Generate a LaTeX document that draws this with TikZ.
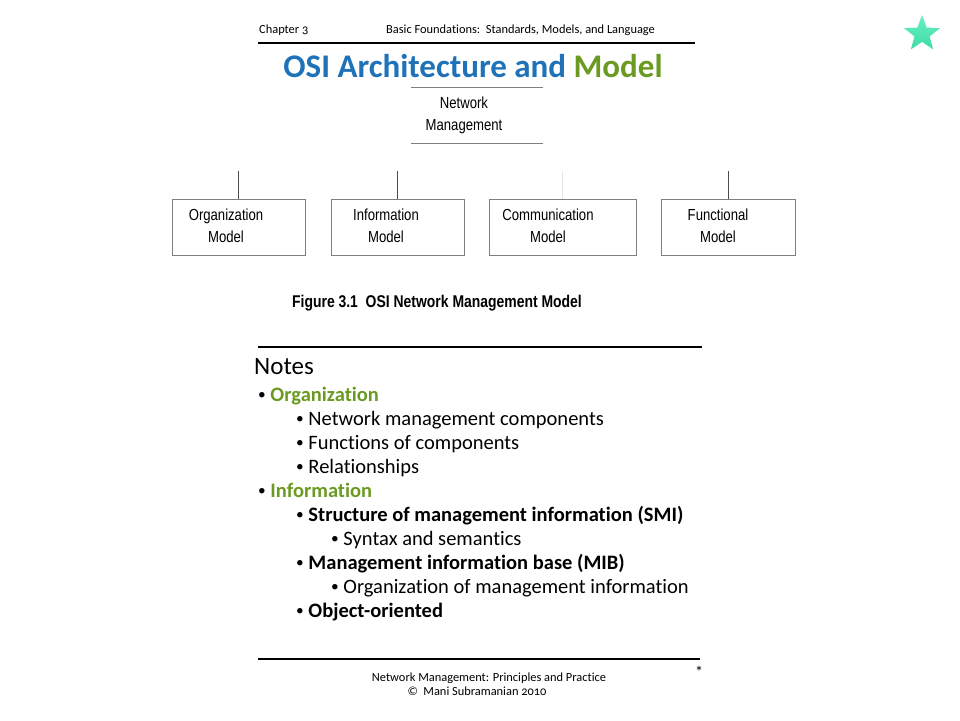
\documentclass[tikz,border=0pt]{standalone}
\usepackage{fontspec}
\setmainfont[Ligatures={TeX,NoCommon}]{Carlito}
\newfontfamily\osifigfont[FakeStretch=0.82]{Liberation Sans}
\newfontfamily\osioldnum[Numbers=OldStyle,Ligatures={TeX,NoCommon}]{Carlito}
\usetikzlibrary{positioning,shapes.geometric}
\definecolor{osiblue}    {HTML}{1F72B8}
\definecolor{osigreen}   {HTML}{6B9A22}
\definecolor{osiedge}    {HTML}{7F7F7F}
\definecolor{osifaint}   {HTML}{E4E4E4}
\definecolor{osistar}    {HTML}{3CDCA6}
\definecolor{osistartop} {HTML}{6AEEC4}
\newcommand{\osidot}{{\color{black}\mdseries\raisebox{0.12ex}{\scalebox{0.75}{\textbullet}}}}
\tikzset{
  osihead/.style={font=\osioldnum\fontsize{12.4}{14}\selectfont, anchor=base west, inner sep=0pt},
  osititle/.style={font=\fontsize{33}{36}\selectfont\bfseries, text=osiblue, anchor=base, inner sep=0pt},
  osirules/.style={minimum width=132pt, minimum height=56pt, inner sep=0pt},
  osibox/.style={draw=osiedge, minimum height=56pt, inner sep=0pt},
  osiboxtext/.style={font=\osifigfont\fontsize{16}{22}\selectfont, align=center, inner sep=0pt},
  osicaption/.style={font=\osifigfont\fontsize{17}{20}\selectfont\bfseries, inner sep=0pt},
  osilink/.style={draw=black!70, line width=0.8pt},
  osibar/.style={line width=2pt},
  osinote/.style={font=\fontsize{20.5}{24}\selectfont, anchor=base west, inner sep=0pt},
  osikey/.style={osinote, font=\fontsize{20.5}{24}\selectfont\bfseries, text=osigreen},
  osisub/.style={osinote, font=\fontsize{20.5}{24}\selectfont\bfseries},
  osifoot/.style={font=\osioldnum\fontsize{12.4}{14}\selectfont, anchor=base, inner sep=0pt},
}

\begin{document}
\begin{tikzpicture}[x=1pt, y=-1pt]
  \useasboundingbox (0,0) rectangle (960,720);

  \node[osihead] (chap) at (259,33) {Chapter 3};
  \node[osihead] (book) at (386,33) {Basic Foundations:\ \ Standards, Models, and Language};
  \draw[osibar] (258,43) -- (695,43);
  \node[osititle] (title) at (473,77) {OSI Architecture and \textcolor{osigreen}{Model}};
  \node[star, star points=5, star point ratio=2.4, minimum size=38pt, inner sep=0pt,
        top color=osistartop, bottom color=osistar] (badge) at (922,34) {};

  \node[osirules] (nm) at (477,115) {};
  \draw[osiedge] (nm.north west) -- (nm.north east);
  \draw[osiedge] (nm.south west) -- (nm.south east);
  \node[osiboxtext] (nmtxt) at (464,115) {Network\\Management};

  \node[osibox, minimum width=133pt] (org)  at (238.5,227) {};
  \node[osibox, minimum width=133pt] (info) at (397.5,227) {};
  \node[osibox, minimum width=147pt] (comm) at (562.5,227) {};
  \node[osibox, minimum width=134pt] (func) at (728,227) {};
  \node[osiboxtext] (orgtxt)  at (226,226) {Organization\\Model};
  \node[osiboxtext] (infotxt) at (386,226) {Information\\Model};
  \node[osiboxtext] (commtxt) at (548,226) {Communication\\Model};
  \node[osiboxtext] (functxt) at (718,226) {Functional\\Model};

  \coordinate (orgup)  at (238.5,171);
  \coordinate (infoup) at (397.5,171);
  \coordinate (commup) at (562.5,171);
  \coordinate (funcup) at (728,171);
  \draw[osilink] (org) -- (orgup);
  \draw[osilink] (info) -- (infoup);
  \draw[osilink, draw=osifaint] (comm) -- (commup);
  \draw[osilink] (func) -- (funcup);

  \node[osicaption] (cap) at (437,303) {Figure 3.1\ \ OSI Network Management Model};

  \draw[osibar] (258,347) -- (702,347);
  \node[osinote, font=\fontsize{25}{28}\selectfont] (notes) at (254,374) {Notes};
  \node[osikey]  (n1)  at (258,401) {\osidot\ Organization};
  \node[osinote] (n2)  at (296,425) {\osidot\ Network management components};
  \node[osinote] (n3)  at (296,449) {\osidot\ Functions of components};
  \node[osinote] (n4)  at (296,473) {\osidot\ Relationships};
  \node[osikey]  (n5)  at (258,497) {\osidot\ Information};
  \node[osisub]  (n6)  at (296,521) {\osidot\ Structure of management information (SMI)};
  \node[osinote] (n7)  at (331,545) {\osidot\ Syntax and semantics};
  \node[osisub]  (n8)  at (296,569) {\osidot\ Management information base (MIB)};
  \node[osinote] (n9)  at (331,593) {\osidot\ Organization of management information};
  \node[osisub]  (n10) at (296,617) {\osidot\ Object-oriented};

  \draw[osibar] (258,659) -- (700,659);
  \node[osifoot, font=\fontsize{16}{16}\selectfont] (mark) at (699,677) {*};
  \node[osifoot] (foot1) at (489,681) {Network Management: Principles and Practice};
  \node[osifoot] (foot2) at (477,695) {\textcopyright\ \ Mani Subramanian 2010};
\end{tikzpicture}
\end{document}
